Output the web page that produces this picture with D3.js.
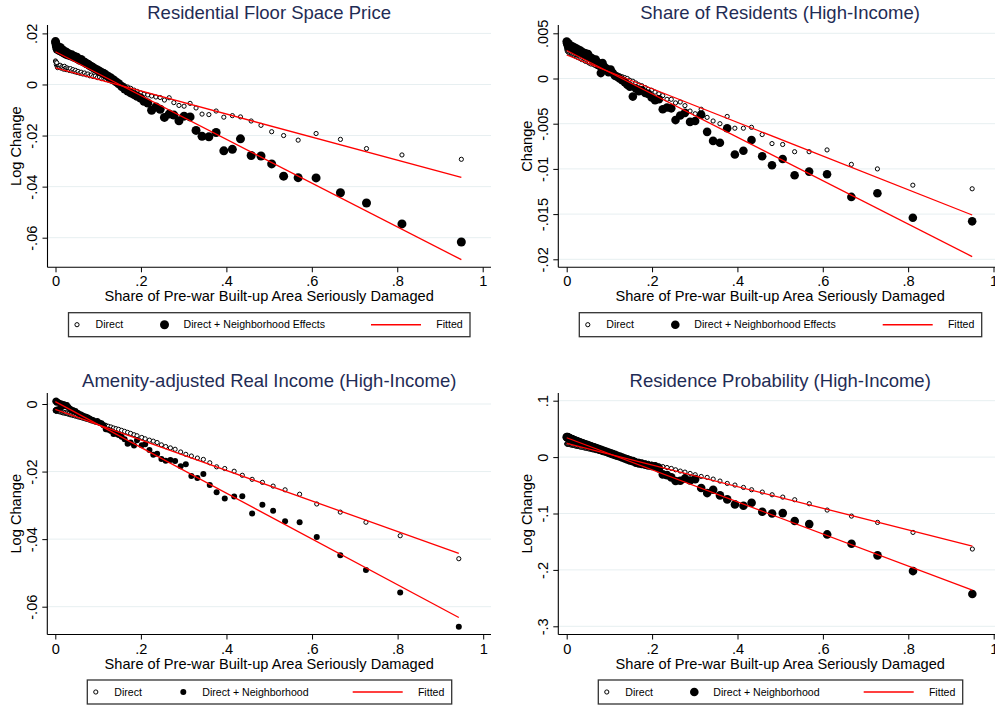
<!DOCTYPE html>
<html>
<head>
<meta charset="utf-8">
<script src="https://cdn.jsdelivr.net/npm/d3@7"></script>
<style>
  body { margin: 0; background: #fff; }
  svg text { font-family: "Liberation Sans", Arial, Helvetica, sans-serif; }
</style>
</head>
<body>
<svg id="chart" width="995" height="708"></svg>
<script>
// share of pre-war built-up area seriously damaged (bin means)
var damageShare = [
  0, 0.001, 0.002, 0.003, 0.004, 0.005, 0.007, 0.009, 0.011, 0.013,
  0.015, 0.017, 0.019, 0.021, 0.023, 0.025, 0.027, 0.030, 0.032, 0.035,
  0.038, 0.041, 0.044, 0.047, 0.050, 0.053, 0.057, 0.060, 0.064, 0.068,
  0.072, 0.076, 0.080, 0.084, 0.088, 0.093, 0.098, 0.103, 0.108, 0.113,
  0.118, 0.124, 0.130, 0.136, 0.142, 0.148, 0.155, 0.162, 0.169, 0.176,
  0.184, 0.191, 0.199, 0.207, 0.216, 0.225, 0.235, 0.245, 0.255, 0.266,
  0.277, 0.289, 0.301, 0.315, 0.329, 0.343, 0.359, 0.376, 0.394, 0.414,
  0.433, 0.458, 0.481, 0.506, 0.534, 0.568, 0.610, 0.667, 0.728, 0.811,
  0.950
];
var damageShareAmenity = [
  0, 0.001, 0.002, 0.003, 0.004, 0.005, 0.007, 0.009, 0.011, 0.013,
  0.015, 0.017, 0.019, 0.021, 0.023, 0.025, 0.027, 0.030, 0.032, 0.035,
  0.038, 0.041, 0.044, 0.047, 0.050, 0.053, 0.057, 0.060, 0.064, 0.068,
  0.072, 0.076, 0.080, 0.084, 0.088, 0.093, 0.098, 0.103, 0.108, 0.113,
  0.118, 0.124, 0.130, 0.136, 0.142, 0.148, 0.155, 0.162, 0.169, 0.176,
  0.184, 0.191, 0.202, 0.210, 0.220, 0.229, 0.238, 0.248, 0.258, 0.269,
  0.280, 0.293, 0.305, 0.318, 0.332, 0.346, 0.361, 0.377, 0.396, 0.418,
  0.437, 0.460, 0.484, 0.509, 0.537, 0.571, 0.611, 0.666, 0.726, 0.806,
  0.943
];

var floorPriceDirect = [
  .0092, .0088, .0078, .0085, .0070, .0066, .0072, .0068, .0075, .0064,
  .0070, .0066, .0060, .0071, .0063, .0058, .0065, .0061, .0055, .0062,
  .0053, .0058, .0050, .0055, .0047, .0051, .0044, .0048, .0041, .0045,
  .0038, .0041, .0034, .0037, .0031, .0033, .0027, .0029, .0023, .0024,
  .0019, .0017, .0013, .0010, .0007, .0003, .0000, -.0006, -.0010, -.0015,
  -.0022, -.0027, -.0033, -.0038, -.0041, -.0045, -.0049, -.0051, -.0061, -.0052,
  -.0071, -.0082, -.0085, -.0074, -.0092, -.0116, -.0118, -.0104, -.0128, -.0122,
  -.0127, -.0143, -.0160, -.0185, -.0200, -.0218, -.0192, -.0215, -.0251, -.0276,
  -.0293
];
var floorPriceNeighborhood = [
  .0168, .0160, .0152, .0145, .0138, .0148, .0140, .0133, .0145, .0130,
  .0137, .0126, .0131, .0122, .0128, .0118, .0124, .0115, .0119, .0112,
  .0116, .0108, .0111, .0104, .0107, .0099, .0095, .0098, .0090, .0087,
  .0082, .0079, .0074, .0070, .0066, .0061, .0057, .0052, .0047, .0043,
  .0037, .0031, .0025, .0018, .0010, .0003, -.0008, -.0018, -.0026, -.0033,
  -.0040, -.0046, -.0053, -.0066, -.0073, -.0101, -.0088, -.0097, -.0129, -.0116,
  -.0120, -.0142, -.0124, -.0127, -.0180, -.0203, -.0205, -.0188, -.0260, -.0254,
  -.0213, -.0278, -.0280, -.0311, -.0359, -.0365, -.0366, -.0424, -.0464, -.0546,
  -.0617
];
var floorPriceFitDirect = [0.0065, -0.0364];
var floorPriceFitNeighborhood = [0.0128, -0.0686];

var residentShareDirect = [
  .0033, .0031, .0030, .0032, .0029, .0030, .0028, .0029, .0027, .0028,
  .0026, .0027, .0025, .0026, .0024, .0025, .0023, .0024, .0022, .0021,
  .0022, .0020, .0019, .0020, .0018, .0017, .0016, .0017, .0015, .0014,
  .0013, .0012, .0011, .0011, .0010, .0009, .0008, .0007, .0006, .0005,
  .0004, .0003, .0002, .0001, .0000, -.0002, -.0003, -.0005, -.0007, -.0008,
  -.0010, -.0012, -.0013, -.0015, -.0017, -.0019, -.0023, -.0023, -.0027, -.0026,
  -.0030, -.0036, -.0039, -.0034, -.0043, -.0047, -.0050, -.0042, -.0055, -.0055,
  -.0054, -.0062, -.0072, -.0073, -.0081, -.0081, -.0079, -.0095, -.0100, -.0118,
  -.0122
];
var residentShareNeighborhood = [
  .0041, .0039, .0038, .0036, .0039, .0035, .0037, .0034, .0036, .0033,
  .0035, .0032, .0034, .0031, .0033, .0030, .0032, .0029, .0031, .0028,
  .0029, .0027, .0028, .0025, .0027, .0024, .0023, .0022, .0020, .0021,
  .0018, .0015, .0006, .0017, .0013, .0011, .0007, .0010, .0006, .0003,
  .0002, .0000, -.0002, -.0004, -.0007, -.0009, -.0020, -.0011, -.0014, -.0013,
  -.0016, -.0017, -.0021, -.0024, -.0023, -.0034, -.0032, -.0033, -.0046, -.0041,
  -.0038, -.0048, -.0047, -.0040, -.0059, -.0069, -.0071, -.0055, -.0084, -.0080,
  -.0068, -.0086, -.0096, -.0089, -.0107, -.0103, -.0106, -.0131, -.0127, -.0154,
  -.0158
];
var residentShareFitDirect = [0.0026, -0.0151];
var residentShareFitNeighborhood = [0.0031, -0.0197];

var realIncomeDirect = [
  -.0018, -.0020, -.0016, -.0022, -.0019, -.0021, -.0020, -.0023, -.0021, -.0024,
  -.0022, -.0026, -.0024, -.0027, -.0025, -.0028, -.0027, -.0030, -.0029, -.0032,
  -.0031, -.0034, -.0033, -.0036, -.0035, -.0038, -.0039, -.0040, -.0042, -.0043,
  -.0045, -.0046, -.0048, -.0050, -.0051, -.0053, -.0055, -.0057, -.0059, -.0061,
  -.0063, -.0066, -.0068, -.0071, -.0073, -.0075, -.0078, -.0081, -.0084, -.0087,
  -.0091, -.0094, -.0099, -.0103, -.0107, -.0110, -.0114, -.0121, -.0126, -.0130,
  -.0134, -.0142, -.0149, -.0154, -.0160, -.0164, -.0174, -.0186, -.0191, -.0199,
  -.0211, -.0223, -.0232, -.0243, -.0254, -.0267, -.0296, -.0320, -.0350, -.0390,
  -.0458
];
var realIncomeNeighborhood = [
  .0008, -.0019, .0010, .0004, -.0016, .0007, .0005, .0003, -.0012, .0002,
  -.0008, -.0003, .0000, -.0005, -.0002, -.0007, -.0003, -.0008, -.0012, -.0014,
  -.0019, -.0018, -.0022, -.0021, -.0025, -.0027, -.0030, -.0031, -.0034, -.0036,
  -.0038, -.0040, -.0043, -.0046, -.0047, -.0052, -.0050, -.0055, -.0057, -.0064,
  -.0075, -.0076, -.0080, -.0089, -.0088, -.0092, -.0097, -.0104, -.0118, -.0114,
  -.0123, -.0107, -.0122, -.0119, -.0136, -.0150, -.0147, -.0163, -.0168, -.0166,
  -.0169, -.0184, -.0178, -.0213, -.0219, -.0207, -.0240, -.0261, -.0280, -.0274,
  -.0273, -.0324, -.0298, -.0316, -.0347, -.0350, -.0394, -.0448, -.0491, -.0558,
  -.0659
];
var realIncomeFitDirect = [-0.0016, -0.0442];
var realIncomeFitNeighborhood = [0.0007, -0.0632];

var residenceProbDirect = [
  .0232, .0240, .0228, .0234, .0225, .0230, .0222, .0220, .0214, .0216,
  .0208, .0207, .0200, .0201, .0194, .0193, .0188, .0183, .0180, .0174,
  .0170, .0163, .0160, .0153, .0149, .0143, .0136, .0130, .0124, .0116,
  .0110, .0101, .0096, .0087, .0081, .0071, .0063, .0053, .0045, .0035,
  .0027, .0014, .0004, -.0010, -.0022, -.0034, -.0046, -.0060, -.0072, -.0085,
  -.0099, -.0110, -.0125, -.0139, -.0153, -.0168, -.0185, -.0201, -.0225, -.0248,
  -.0266, -.0290, -.0313, -.0343, -.0360, -.0390, -.0425, -.0467, -.0496, -.0538,
  -.0579, -.0620, -.0668, -.0709, -.0756, -.0827, -.0939, -.1046, -.1158, -.1335,
  -.1630
];
var residenceProbNeighborhood = [
  .0355, .0350, .0356, .0342, .0348, .0338, .0332, .0326, .0318, .0314,
  .0305, .0300, .0294, .0289, .0282, .0276, .0270, .0262, .0255, .0248,
  .0240, .0231, .0224, .0216, .0208, .0199, .0190, .0180, .0172, .0160,
  .0150, .0140, .0128, .0118, .0106, .0094, .0080, .0066, .0052, .0040,
  .0024, .0010, -.0008, -.0024, -.0040, -.0058, -.0072, -.0100, -.0112, -.0120,
  -.0135, -.0148, -.0158, -.0165, -.0200, -.0307, -.0319, -.0360, -.0425, -.0420,
  -.0378, -.0414, -.0390, -.0549, -.0638, -.0579, -.0679, -.0750, -.0839, -.0863,
  -.0809, -.0969, -.0999, -.0993, -.1134, -.1188, -.1371, -.1536, -.1743, -.2021,
  -.2428
];
var residenceProbFitDirect = [0.0242, -0.1578];
var residenceProbFitNeighborhood = [0.0343, -0.2357];

// tick values and labels
var xTicks = [0, 0.2, 0.4, 0.6, 0.8, 1];
var xTickLabels = ["0", ".2", ".4", ".6", ".8", "1"];
var floorPriceTicks = [0.02, 0, -0.02, -0.04, -0.06];
var floorPriceTickLabels = [".02", "0", "-.02", "-.04", "-.06"];
var residentShareTicks = [0.005, 0, -0.005, -0.01, -0.015, -0.02];
var residentShareTickLabels = [".005", "0", "-.005", "-.01", "-.015", "-.02"];
var realIncomeTicks = [0, -0.02, -0.04, -0.06];
var realIncomeTickLabels = ["0", "-.02", "-.04", "-.06"];
var residenceProbTicks = [0.1, 0, -0.1, -0.2, -0.3];
var residenceProbTickLabels = [".1", "0", "-.1", "-.2", "-.3"];

var titles = ["Residential Floor Space Price", "Share of Residents (High-Income)",
  "Amenity-adjusted Real Income (High-Income)", "Residence Probability (High-Income)"];
var yTitles = ["Log Change", "Change", "Log Change", "Log Change"];
var xTitle = "Share of Pre-war Built-up Area Seriously Damaged";
var legendDirect = "Direct";
var legendNeighborhood = ["Direct + Neighborhood Effects", "Direct + Neighborhood Effects",
  "Direct + Neighborhood", "Direct + Neighborhood"];
var legendFitted = "Fitted";

var svg = d3.select("#chart");
var titleColor = "#1f2c55";
var fontSize = 14.6;
var hollowR = 2.1;

// panel layout in pixels
var panels = [
  { x: damageShare, direct: floorPriceDirect, neigh: floorPriceNeighborhood,
    fitD: floorPriceFitDirect, fitN: floorPriceFitNeighborhood,
    ticks: floorPriceTicks, tickLabels: floorPriceTickLabels,
    axisX: 47.5, x0: 55.5, x1: 482.7, right: 491, top: 25, bottom: 267.3,
    yRef: [0.02, 33.4, -0.06, 237.7], legendLeft: 68.5, legendW: 401.5, legendTop: 312.7, dotR: 4.5 },
  { x: damageShare, direct: residentShareDirect, neigh: residentShareNeighborhood,
    fitD: residentShareFitDirect, fitN: residentShareFitNeighborhood,
    ticks: residentShareTicks, tickLabels: residentShareTickLabels,
    axisX: 558.3, x0: 566.7, x1: 993.5, right: 1002, top: 25, bottom: 267.3,
    yRef: [0.005, 33.3, -0.02, 259.3], legendLeft: 579.3, legendW: 402.4, legendTop: 312.7, dotR: 4.3 },
  { x: damageShareAmenity, direct: realIncomeDirect, neigh: realIncomeNeighborhood,
    fitD: realIncomeFitDirect, fitN: realIncomeFitNeighborhood,
    ticks: realIncomeTicks, tickLabels: realIncomeTickLabels,
    axisX: 47.3, x0: 55.3, x1: 483.2, right: 491, top: 393, bottom: 634.5,
    yRef: [0, 404, -0.06, 606.7], legendLeft: 87.3, legendW: 364.4, legendTop: 680, dotR: 3.0 },
  { x: damageShare, direct: residenceProbDirect, neigh: residenceProbNeighborhood,
    fitD: residenceProbFitDirect, fitN: residenceProbFitNeighborhood,
    ticks: residenceProbTicks, tickLabels: residenceProbTickLabels,
    axisX: 558.3, x0: 566.7, x1: 993.7, right: 1002, top: 393, bottom: 634.5,
    yRef: [0.1, 400.7, -0.3, 626.3], legendLeft: 598.3, legendW: 364.4, legendTop: 680, dotR: 4.3 }
];

panels.forEach(function (p, i) {
  var g = svg.append("g");

  var xScale = d3.scaleLinear().domain([0, 1]).range([p.x0, p.x1]);
  var yScale = d3.scaleLinear().domain([p.yRef[0], p.yRef[2]]).range([p.yRef[1], p.yRef[3]]);
  var cx = (p.x0 + p.x1) / 2;

  // gridlines
  g.selectAll(".grid").data(p.ticks).enter().append("line")
    .attr("x1", p.axisX).attr("x2", p.right)
    .attr("y1", d => yScale(d)).attr("y2", d => yScale(d))
    .attr("stroke", "#e7eff1").attr("stroke-width", 1);

  // x axis
  var xAxis = d3.axisBottom(xScale).tickValues(xTicks)
    .tickFormat((d, k) => xTickLabels[k]).tickSize(5).tickSizeOuter(0);
  var gx = g.append("g").attr("transform", `translate(0, ${p.bottom})`).call(xAxis);
  gx.select(".domain").remove();
  gx.selectAll("line").attr("stroke", "#000");
  gx.selectAll("text").attr("y", 19).attr("dy", 0)
    .style("font-size", fontSize + "px").attr("fill", "#000");

  // y axis
  var yAxis = d3.axisLeft(yScale).tickValues(p.ticks)
    .tickFormat((d, k) => p.tickLabels[k]).tickSize(5).tickSizeOuter(0);
  var gy = g.append("g").attr("transform", `translate(${p.axisX}, 0)`).call(yAxis);
  gy.select(".domain").remove();
  gy.selectAll("line").attr("stroke", "#000");
  gy.selectAll("text").attr("x", 0).attr("y", -10.3).attr("dy", 0)
    .attr("transform", "rotate(-90)").attr("text-anchor", "middle")
    .style("font-size", fontSize + "px").attr("fill", "#000");

  // axis lines
  g.append("line").attr("x1", p.axisX).attr("x2", p.axisX)
    .attr("y1", p.top).attr("y2", p.bottom).attr("stroke", "#000").attr("stroke-width", 1.1);
  g.append("line").attr("x1", p.axisX).attr("x2", p.right)
    .attr("y1", p.bottom).attr("y2", p.bottom).attr("stroke", "#000").attr("stroke-width", 1.1);

  // points: direct (hollow), then direct + neighborhood (solid)
  var pts = p.x.map((d, k) => ({ x: d, direct: p.direct[k], neigh: p.neigh[k] }));
  g.append("g").selectAll("circle").data(pts).enter().append("circle")
    .attr("cx", d => xScale(d.x)).attr("cy", d => yScale(d.direct)).attr("r", hollowR)
    .attr("fill", "#fff").attr("stroke", "#000").attr("stroke-width", 1);
  g.append("g").selectAll("circle").data(pts).enter().append("circle")
    .attr("cx", d => xScale(d.x)).attr("cy", d => yScale(d.neigh)).attr("r", p.dotR)
    .attr("fill", "#000");

  // fitted lines
  var xEnds = d3.extent(p.x);
  var line = d3.line().x(d => xScale(d[0])).y(d => yScale(d[1]));
  [p.fitD, p.fitN].forEach(function (fit) {
    g.append("path")
      .attr("d", line([[xEnds[0], fit[0]], [xEnds[1], fit[1]]]))
      .attr("stroke", "#ff0000").attr("stroke-width", 1.3).attr("fill", "none");
  });

  // titles
  g.append("text").attr("x", cx).attr("y", p.top - 6.5)
    .attr("text-anchor", "middle").style("font-size", "18.5px").attr("fill", titleColor)
    .text(titles[i]);
  g.append("text").attr("x", cx).attr("y", p.bottom + 34)
    .attr("text-anchor", "middle").style("font-size", fontSize + "px").attr("fill", "#000")
    .text(xTitle);
  g.append("text")
    .attr("transform", `translate(${p.axisX - 26.8}, ${(p.top + p.bottom) / 2}) rotate(-90)`)
    .attr("text-anchor", "middle").style("font-size", fontSize + "px").attr("fill", "#000")
    .text(yTitles[i]);

  // legend
  var lg = g.append("g").attr("transform", `translate(${p.legendLeft}, ${p.legendTop})`);
  var h = 24, my = h / 2;
  lg.append("rect").attr("width", p.legendW).attr("height", h)
    .attr("fill", "#fff").attr("stroke", "#333").attr("stroke-width", 1.3);
  lg.append("circle").attr("cx", 8.5).attr("cy", my).attr("r", hollowR)
    .attr("fill", "#fff").attr("stroke", "#000").attr("stroke-width", 1);
  lg.append("circle").attr("cx", 96).attr("cy", my).attr("r", p.dotR).attr("fill", "#000");
  lg.append("line").attr("x1", p.legendW - 99).attr("x2", p.legendW - 49)
    .attr("y1", my).attr("y2", my).attr("stroke", "#ff0000").attr("stroke-width", 1.4);
  var legText = [
    { x: 27, anchor: "start", t: legendDirect },
    { x: 115, anchor: "start", t: legendNeighborhood[i] },
    { x: p.legendW - 7.3, anchor: "end", t: legendFitted }
  ];
  lg.selectAll("text").data(legText).enter().append("text")
    .attr("x", d => d.x).attr("y", my + 3.8).attr("text-anchor", d => d.anchor)
    .style("font-size", "10.6px").attr("fill", "#000")
    .text(d => d.t);
});
</script>
</body>
</html>
